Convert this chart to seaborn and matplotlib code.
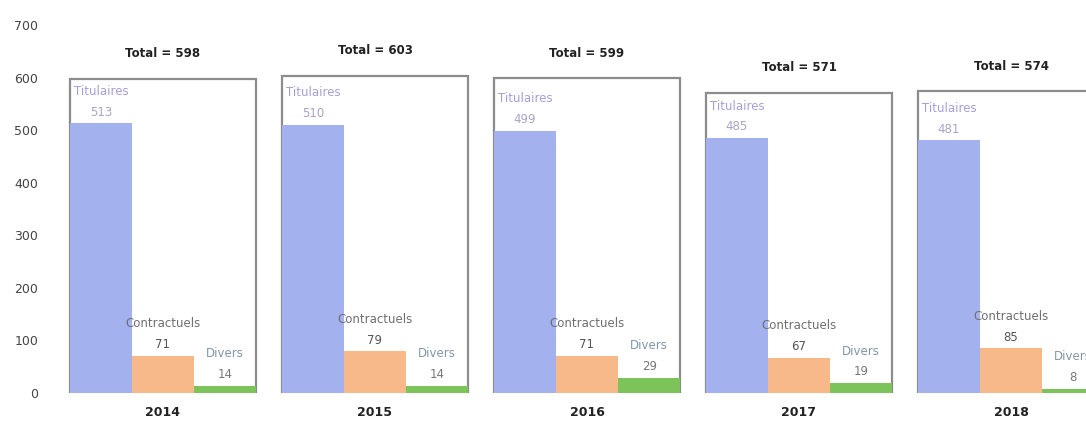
import matplotlib
matplotlib.use("Agg")
import matplotlib.pyplot as plt
import seaborn as sns
import pandas as pd

# Staff headcount by status, per year
years = ["2014", "2015", "2016", "2017", "2018"]
categories = ["Titulaires", "Contractuels", "Divers"]
titulaires = [513, 510, 499, 485, 481]
contractuels = [71, 79, 71, 67, 85]
divers = [14, 14, 29, 19, 8]
totals = [598, 603, 599, 571, 574]

colors = {"Titulaires": "#a3b1ee", "Contractuels": "#f8b98a", "Divers": "#7cc35a"}
name_colors = {"Titulaires": "#a79ed8", "Contractuels": "#6f6f6f", "Divers": "#8197a8"}
value_colors = {"Titulaires": "#a8a3c8", "Contractuels": "#555555", "Divers": "#777777"}

df = pd.DataFrame({
    "year": years * 3,
    "cat": ["Titulaires"] * 5 + ["Contractuels"] * 5 + ["Divers"] * 5,
    "value": titulaires + contractuels + divers,
})
df_tot = pd.DataFrame({"year": years, "total": totals})

sns.set_theme(style="white")
plt.rcParams["font.family"] = ["DejaVu Sans"]

W, H = 1086, 424
fig = plt.figure(figsize=(W / 100, H / 100), dpi=100)
ax = fig.add_axes([45 / W, (H - 393) / H, (W - 45) / W, (393 - 25) / H])

GW = 0.88
# outline box showing each year's total
sns.barplot(data=df_tot, x="year", y="total", fill=False, color="#8c8c8c",
            width=GW, linewidth=1.6, ax=ax, zorder=1)
tot_container = ax.containers[0]

sns.barplot(data=df, x="year", y="value", hue="cat", hue_order=categories,
            palette=colors, saturation=1, width=GW, dodge=True, gap=0,
            linewidth=0, legend=False, ax=ax, zorder=2)
cat_containers = ax.containers[1:]

# total labels above each box
for bar, t in zip(tot_container, totals):
    ax.annotate(f"Total = {t}", (bar.get_x() + bar.get_width() / 2, bar.get_height()),
                xytext=(0, 18), textcoords="offset points", ha="center", va="center",
                fontsize=8.5, fontweight="bold", color="#222222")

# category name and value above each bar
for cat, cont, vals in zip(categories, cat_containers, [titulaires, contractuels, divers]):
    for bar, v in zip(cont, vals):
        cx = bar.get_x() + bar.get_width() / 2
        ax.annotate(str(v), (cx, v), xytext=(0, 8), textcoords="offset points",
                    ha="center", va="center", fontsize=8.5, color=value_colors[cat])
        ax.annotate(cat, (cx, v), xytext=(0, 23), textcoords="offset points",
                    ha="center", va="center", fontsize=8.5, color=name_colors[cat])

ax.set_ylim(0, 700)
ax.set_yticks(range(0, 701, 100))
ax.set_xlim((45 - 163) / 212, (W - 163) / 212)
ax.set_xlabel("")
ax.set_ylabel("")
for s in ax.spines.values():
    s.set_visible(False)
ax.tick_params(axis="y", length=0, labelsize=9, labelcolor="#444444", pad=5)
ax.tick_params(axis="x", length=0, labelsize=9, labelcolor="#222222", pad=9)
for lbl in ax.get_xticklabels():
    lbl.set_fontweight("bold")
ax.grid(False)

fig.savefig("out.png", dpi=100, facecolor="white")
